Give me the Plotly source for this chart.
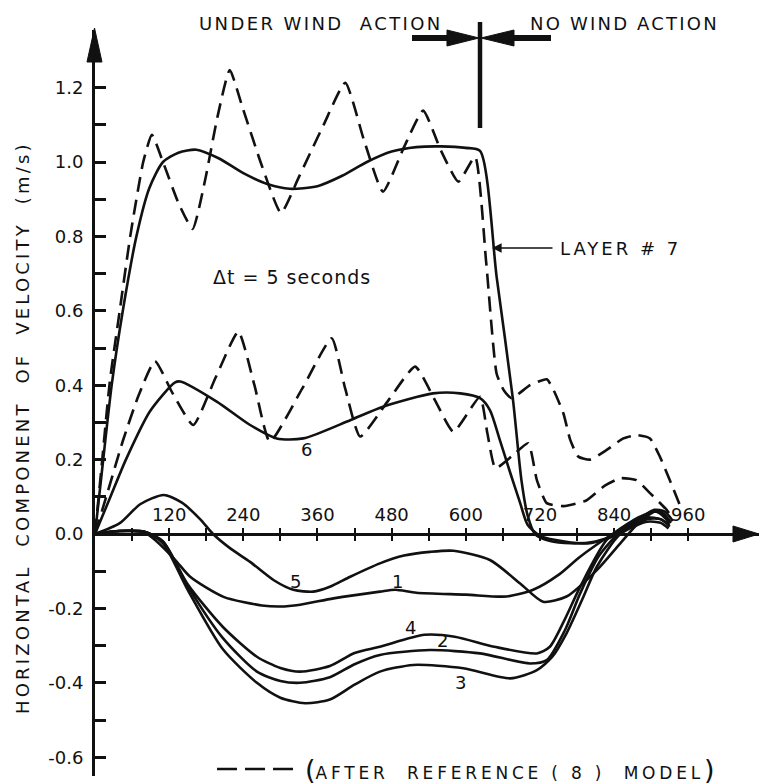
import plotly.graph_objects as go

# ---------------- data (time in s, velocity in m/s) ----------------
t7s = [0, 10, 27, 45, 67, 88, 110, 135, 164, 200, 240, 280, 315, 360, 400, 440, 480, 520, 560, 600, 623,
       650, 676, 690, 700, 712, 735, 770, 810, 845, 880, 905, 922, 935]
v7s = [0, 0.15, 0.40, 0.60, 0.80, 0.93, 1.00, 1.025, 1.033, 1.01, 0.97, 0.94, 0.928, 0.935, 0.963, 1.0, 1.028,
       1.04, 1.042, 1.038, 1.03, 0.69, 0.366, 0.145, 0.05, 0.0, -0.018, -0.025, -0.02, 0.0, 0.04, 0.065, 0.06, 0.035]

t7d = [0, 10, 24, 40, 57, 78, 92, 110, 135, 158, 178, 198, 218, 240, 270, 301, 330, 370, 405, 435, 466, 500,
       531, 560, 588, 615, 633, 650, 662, 674, 704, 731, 742, 758, 769, 782, 801, 828, 855, 877, 898, 914, 930, 947]
v7d = [0, 0.17, 0.41, 0.60, 0.80, 1.0, 1.073, 1.0, 0.89, 0.82, 0.95, 1.12, 1.247, 1.14, 0.99, 0.863, 0.96,
       1.10, 1.213, 1.06, 0.92, 1.04, 1.138, 1.03, 0.947, 1.014, 0.73, 0.43, 0.385, 0.365, 0.40, 0.416, 0.387,
       0.324, 0.253, 0.208, 0.20, 0.226, 0.257, 0.266, 0.257, 0.208, 0.145, 0.075]

t6s = [0, 25, 50, 89, 129, 138, 197, 251, 294, 337, 413, 466, 547, 591, 623, 639, 655, 672, 688, 700, 720,
       760, 800, 840, 880, 905, 920, 932]
v6s = [0, 0.10, 0.20, 0.33, 0.407, 0.41, 0.356, 0.293, 0.257, 0.257, 0.306, 0.342, 0.378, 0.378, 0.365, 0.333,
       0.253, 0.164, 0.083, 0.025, -0.005, -0.02, -0.025, -0.005, 0.04, 0.06, 0.055, 0.03]

t6d = [0, 20, 45, 70, 97, 125, 159, 195, 232, 258, 283, 335, 383, 405, 429, 475, 518, 550, 580, 623, 635,
       648, 675, 701, 715, 731, 758, 795, 825, 850, 876, 898, 925, 935]
v6d = [0, 0.11, 0.25, 0.37, 0.465, 0.38, 0.293, 0.42, 0.544, 0.40, 0.248, 0.39, 0.526, 0.39, 0.262, 0.36,
       0.45, 0.36, 0.275, 0.369, 0.27, 0.177, 0.21, 0.244, 0.145, 0.083, 0.075, 0.09, 0.13, 0.15, 0.145, 0.11,
       0.065, 0.04]

t5 = [0, 40, 73, 111, 140, 170, 191, 220, 251, 290, 321, 353, 380, 413, 461, 500, 542, 580, 639, 688, 725,
      763, 812, 850, 880, 909, 930]
v5 = [0, 0.029, 0.08, 0.105, 0.085, 0.04, 0.0, -0.04, -0.075, -0.125, -0.15, -0.155, -0.142, -0.115, -0.079,
      -0.058, -0.048, -0.045, -0.07, -0.133, -0.182, -0.168, -0.097, -0.025, 0.03, 0.062, 0.03]

t1 = [0, 40, 80, 100, 130, 154, 208, 270, 300, 332, 386, 461, 486, 520, 600, 666, 709, 750, 785, 839, 880,
      909, 930]
v1 = [0, 0.008, 0.004, -0.02, -0.07, -0.115, -0.169, -0.192, -0.195, -0.19, -0.173, -0.155, -0.150, -0.158,
      -0.163, -0.168, -0.15, -0.11, -0.061, 0.002, 0.045, 0.06, 0.03]

t4 = [0, 40, 80, 110, 150, 207, 262, 300, 332, 380, 420, 461, 533, 582, 646, 715, 736, 760, 785, 828, 866,
      893, 915, 930]
v4 = [0, 0.008, 0.006, -0.02, -0.135, -0.25, -0.33, -0.36, -0.37, -0.355, -0.32, -0.303, -0.271, -0.276,
      -0.303, -0.321, -0.303, -0.23, -0.142, -0.016, 0.029, 0.045, 0.04, 0.025]

t2 = [0, 40, 80, 110, 150, 207, 262, 300, 332, 380, 420, 461, 542, 623, 704, 731, 760, 785, 815, 850, 893,
      915, 930]
v2 = [0, 0.008, 0.006, -0.02, -0.14, -0.28, -0.37, -0.395, -0.40, -0.385, -0.35, -0.325, -0.312, -0.321,
      -0.348, -0.339, -0.26, -0.16, -0.06, 0.005, 0.04, 0.04, 0.02]

t3 = [0, 40, 80, 110, 150, 207, 262, 300, 340, 380, 420, 461, 515, 596, 672, 715, 740, 763, 790, 812, 850,
      893, 915, 928]
v3 = [0, 0.008, 0.006, -0.025, -0.15, -0.31, -0.40, -0.44, -0.455, -0.445, -0.405, -0.37, -0.352, -0.361,
      -0.388, -0.366, -0.33, -0.267, -0.17, -0.088, 0.0, 0.033, 0.03, 0.015]

y_ticks = [-0.6, -0.5, -0.4, -0.3, -0.2, -0.1, 0.0, 0.1, 0.2, 0.3, 0.4, 0.5, 0.6, 0.7, 0.8, 0.9, 1.0, 1.1, 1.2]
y_labels = ["-0.6", "", "-0.4", "", "-0.2", "", "0.0", "", "0.2", "", "0.4", "", "0.6", "", "0.8", "", "1.0",
            "", "1.2"]
x_ticks = [60, 120, 180, 240, 300, 360, 420, 480, 540, 600, 660, 720, 780, 840, 900, 960]
x_labels = ["", "120", "", "240", "", "360", "", "480", "", "600", "", "720", "", "840", "", "960"]

curve_labels = [("6", 343, 0.228), ("5", 325, -0.129), ("1", 489, -0.129), ("4", 510, -0.25),
                ("2", 563, -0.285), ("3", 591, -0.398)]

# ---------------- geometry ----------------
W, H = 759, 784
L, R, T, B = 95, 0, 30, 8
KX = 0.618   # px per second
KY = 372.0   # px per m/s
X1 = (W - L - R) / KX
Y0 = -(H - B - 534) / KY
Y1 = (534 - T) / KY
PW, PH = W - L - R, H - T - B


def px(x):
    return (x - L) / PW


def py(y):
    return (H - B - y) / PH


FONT = "DejaVu Sans"
BLACK = "#111111"

fig = go.Figure()

solid = dict(color=BLACK, width=2.6, shape="spline", smoothing=0.7)
dashed = dict(color=BLACK, width=2.6, dash="15px,8px", shape="spline", smoothing=0.5)

for tt, vv, ln in [(t7s, v7s, solid), (t6s, v6s, solid), (t5, v5, solid), (t1, v1, solid),
                   (t4, v4, solid), (t2, v2, solid), (t3, v3, solid),
                   (t7d, v7d, dashed), (t6d, v6d, dashed)]:
    fig.add_trace(go.Scatter(x=tt, y=vv, mode="lines", line=ln, showlegend=False, hoverinfo="skip"))

# helper trace for the second (downward tick) x axis
fig.add_trace(go.Scatter(x=[0], y=[0], xaxis="x2", mode="markers", marker=dict(opacity=0),
                         showlegend=False, hoverinfo="skip"))

xpos = -Y0 / (Y1 - Y0)
fig.update_layout(
    width=W, height=H, margin=dict(l=L, r=R, t=T, b=B, autoexpand=False),
    paper_bgcolor="white", plot_bgcolor="white", showlegend=False,
    font=dict(family=FONT, color=BLACK, size=18),
    xaxis=dict(range=[0, X1], anchor="free", position=xpos, side="top", showline=True,
               linewidth=2.5, linecolor=BLACK, ticks="outside", ticklen=5, tickwidth=2,
               tickcolor=BLACK, tickmode="array", tickvals=x_ticks, ticktext=x_labels,
               tickfont=dict(size=18), showgrid=False, zeroline=False, automargin=False),
    xaxis2=dict(range=[0, X1], overlaying="x", anchor="free", position=xpos, side="bottom",
                showline=False, ticks="outside", ticklen=6, tickwidth=2, tickcolor=BLACK,
                tickmode="array", tickvals=x_ticks, showticklabels=False, showgrid=False,
                zeroline=False, automargin=False),
    yaxis=dict(range=[Y0, Y1], showline=True, linewidth=3, linecolor=BLACK, ticks="inside",
               ticklen=11, tickwidth=2.5, tickcolor=BLACK, tickmode="array", tickvals=y_ticks,
               ticktext=y_labels, tickfont=dict(size=18), showgrid=False, zeroline=False,
               ticklabelstandoff=5, automargin=False),
)

ann = []
# y-axis title
ann.append(dict(x=px(22), y=py(428), xref="paper", yref="paper", xanchor="center", yanchor="middle",
                textangle=-90, showarrow=False,
                text='<span style="letter-spacing:3.2px">HORIZONTAL  COMPONENT  OF  VELOCITY  (m/s)</span>',
                font=dict(size=18)))
# top texts
ann.append(dict(x=px(197), y=py(23), xref="paper", yref="paper", xanchor="left", yanchor="middle",
                showarrow=False, text='<span style="letter-spacing:2.4px">UNDER WIND  ACTION</span>',
                font=dict(size=18)))
ann.append(dict(x=px(528), y=py(23), xref="paper", yref="paper", xanchor="left", yanchor="middle",
                showarrow=False, text='<span style="letter-spacing:2.2px">NO WIND ACTION</span>',
                font=dict(size=18)))
# Layer 7 label with arrow
ann.append(dict(x=(492 - L) / KX, y=(534 - 248) / KY, xref="x", yref="y", ax=62, ay=0, text="",
                showarrow=True, arrowhead=2, arrowsize=1.2, arrowwidth=1.6, arrowcolor=BLACK))
ann.append(dict(x=(558 - L) / KX, y=(534 - 248) / KY, xref="x", yref="y", xanchor="left",
                showarrow=False, text='<span style="letter-spacing:3px">LAYER # 7</span>',
                font=dict(size=18)))
# delta t
ann.append(dict(x=(211 - L) / KX, y=(534 - 277) / KY, xref="x", yref="y", xanchor="left",
                showarrow=False, text='<span style="letter-spacing:1px">Δt = 5 seconds</span>',
                font=dict(size=19)))
# curve labels
for s, xx, yy in curve_labels:
    ann.append(dict(x=xx, y=yy, xref="x", yref="y", showarrow=False, text=s, font=dict(size=18)))
# bottom legend text
ann.append(dict(x=px(303), y=py(769), xref="paper", yref="paper", xanchor="left", yanchor="middle",
                showarrow=False,
                text='<span style="font-size:27px">(</span><span style="letter-spacing:3.8px">AFTER  REFERENCE ( 8 )  MODEL</span><span style="font-size:27px">)</span>',
                font=dict(size=17)))
fig.update_layout(annotations=ann)


def tri(pts):
    return "M " + " L ".join(f"{px(a):.5f},{py(b):.5f}" for a, b in pts) + " Z"


shapes = [
    # wind change marker
    dict(type="line", xref="paper", yref="paper", x0=px(480), x1=px(480), y0=py(22), y1=py(128),
         line=dict(color=BLACK, width=4.5)),
    dict(type="line", xref="paper", yref="paper", x0=px(412), x1=px(452), y0=py(38), y1=py(38),
         line=dict(color=BLACK, width=6)),
    dict(type="path", xref="paper", yref="paper", path=tri([(447, 30), (479, 38), (447, 46)]),
         fillcolor=BLACK, line=dict(color=BLACK, width=1)),
    dict(type="line", xref="paper", yref="paper", x0=px(510), x1=px(551), y0=py(38), y1=py(38),
         line=dict(color=BLACK, width=6)),
    dict(type="path", xref="paper", yref="paper", path=tri([(514, 30), (481, 38), (514, 46)]),
         fillcolor=BLACK, line=dict(color=BLACK, width=1)),
    # axis arrowheads
    dict(type="path", xref="paper", yref="paper", path=tri([(87, 62), (94.5, 28), (102, 62)]),
         fillcolor=BLACK, line=dict(color=BLACK, width=1)),
    dict(type="path", xref="paper", yref="paper", path=tri([(733, 526), (759, 534), (733, 542)]),
         fillcolor=BLACK, line=dict(color=BLACK, width=1)),
    # legend dashes
    dict(type="line", xref="paper", yref="paper", x0=px(217), x1=px(300), y0=py(769), y1=py(769),
         line=dict(color=BLACK, width=2.6, dash="20px,8px")),
]
fig.update_layout(shapes=shapes)

fig.write_html("out.html", config={"displayModeBar": False},
               post_script="document.body.style.margin='0px';document.body.style.padding='0px';")
